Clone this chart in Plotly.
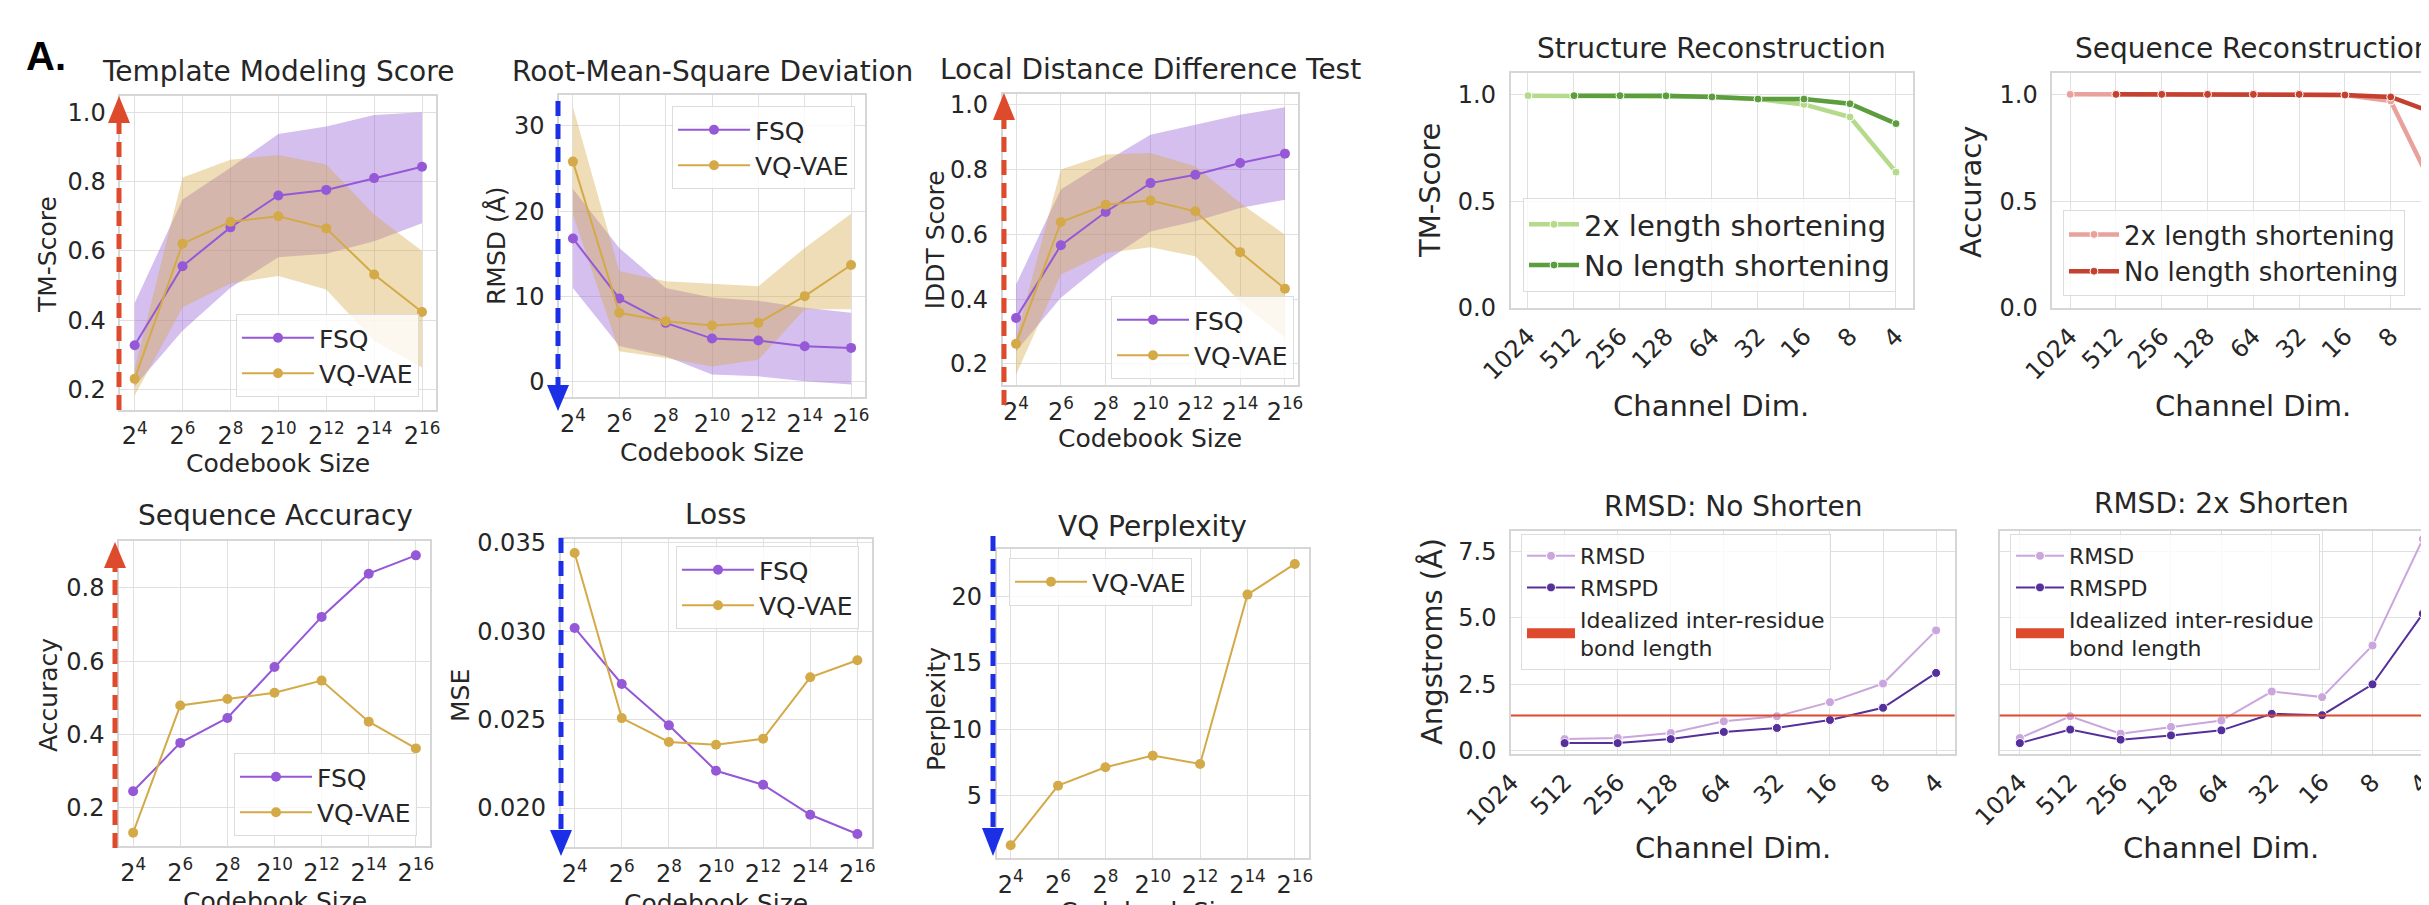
import plotly.graph_objects as go

W, H = 2429, 905
def X(p): return p / W
def Y(p): return 1 - p / H

# ---------------- data ----------------
exponents = [4, 6, 8, 10, 12, 14, 16]
codebook_labels = ["2<sup>4</sup>", "2<sup>6</sup>", "2<sup>8</sup>", "2<sup>10</sup>",
                   "2<sup>12</sup>", "2<sup>14</sup>", "2<sup>16</sup>"]

tm_fsq = [0.328, 0.556, 0.668, 0.760, 0.776, 0.810, 0.843]
tm_fsq_hi = [0.45, 0.748, 0.84, 0.937, 0.959, 0.992, 1.0]
tm_fsq_lo = [0.21, 0.37, 0.494, 0.582, 0.592, 0.628, 0.68]
tm_vq = [0.231, 0.621, 0.684, 0.700, 0.665, 0.532, 0.424]
tm_vq_hi = [0.26, 0.812, 0.863, 0.877, 0.849, 0.705, 0.60]
tm_vq_lo = [0.183, 0.437, 0.506, 0.528, 0.489, 0.34, 0.264]

rmsd_fsq = [16.8, 9.78, 6.92, 5.08, 4.85, 4.19, 3.99]
rmsd_fsq_hi = [22.6, 15.7, 11.0, 9.9, 9.5, 8.7, 8.1]
rmsd_fsq_lo = [11.0, 4.2, 3.0, 0.86, 0.66, 0.08, -0.3]
rmsd_vq = [25.8, 8.1, 7.12, 6.61, 6.92, 10.05, 13.7]
rmsd_vq_hi = [32.2, 13.0, 11.8, 11.5, 11.2, 15.7, 19.7]
rmsd_vq_lo = [19.6, 3.6, 2.8, 1.8, 2.6, 8.5, 8.5]

lddt_fsq = [0.342, 0.566, 0.669, 0.758, 0.784, 0.820, 0.849]
lddt_fsq_hi = [0.445, 0.738, 0.825, 0.907, 0.938, 0.969, 0.992]
lddt_fsq_lo = [0.239, 0.404, 0.517, 0.609, 0.64, 0.681, 0.707]
lddt_vq = [0.262, 0.638, 0.691, 0.704, 0.671, 0.545, 0.432]
lddt_vq_hi = [0.28, 0.80, 0.846, 0.851, 0.81, 0.697, 0.599]
lddt_vq_lo = [0.167, 0.476, 0.542, 0.56, 0.532, 0.393, 0.28]

seqacc_fsq = [0.245, 0.377, 0.445, 0.584, 0.721, 0.839, 0.889]
seqacc_vq = [0.132, 0.479, 0.497, 0.514, 0.547, 0.435, 0.362]
mse_fsq = [0.03019, 0.02702, 0.02468, 0.02211, 0.02132, 0.01962, 0.01853]
mse_vq = [0.03443, 0.02509, 0.02374, 0.02358, 0.02392, 0.0274, 0.02836]
perp_vq = [1.22, 5.73, 7.12, 8.0, 7.37, 20.18, 22.5]

channel_dims = ["1024", "512", "256", "128", "64", "32", "16", "8", "4"]
struct_2x = [0.994, 0.994, 0.994, 0.993, 0.989, 0.978, 0.953, 0.894, 0.636]
struct_no = [None, 0.994, 0.994, 0.993, 0.988, 0.978, 0.978, 0.956, 0.863]
seq_2x = [1.0, 1.0, 1.0, 1.0, 1.0, 1.0, 0.997, 0.969, 0.531]
seq_no = [None, 1.0, 1.0, 1.0, 1.0, 1.0, 0.997, 0.988, 0.909]
rmsdno_rmsd = [None, 0.44, 0.48, 0.67, 1.11, 1.30, 1.83, 2.53, 4.53]
rmsdno_rmspd = [None, 0.29, 0.29, 0.44, 0.71, 0.86, 1.16, 1.62, 2.93]
rmsd2x_rmsd = [0.48, 1.30, 0.645, 0.90, 1.14, 2.23, 2.02, 3.96, 7.97]
rmsd2x_rmspd = [0.29, 0.80, 0.42, 0.58, 0.77, 1.39, 1.34, 2.50, 5.16]
bond_length = 1.33

# ---------------- styles ----------------
FONT = "DejaVu Sans"
TXT = "#262626"
GRID = "#e0e0e0"
FRAME = "#d6d6d6"
FSQ_C = "#9558d6"
FSQ_F = "rgba(150,95,215,0.40)"
VQ_C = "#d4aa48"
VQ_F = "rgba(212,170,72,0.40)"
G_LIGHT = "#b5da8c"
G_DARK = "#5c9d3d"
R_LIGHT = "#e8a29b"
R_DARK = "#c4412f"
P_LIGHT = "#caa6dc"
P_DARK = "#55309a"
RED = "#dd4a2c"
BLUE = "#1b2fe6"

fig = go.Figure()
layout = dict(width=W, height=H, margin=dict(l=0, r=0, t=0, b=0, autoexpand=False),
              paper_bgcolor="white", plot_bgcolor="white",
              font=dict(family=FONT, color=TXT), showlegend=True)
annotations = []
shapes = []


def ax(i):
    return ("xaxis", "yaxis", "x", "y") if i == 1 else (f"xaxis{i}", f"yaxis{i}", f"x{i}", f"y{i}")


def setup(i, xd, yd, xr, yr, ytv, yfmt, cat=False, ytick_size=24, xtick_size=24, showy=True):
    xa, ya, xr_, yr_ = ax(i)
    common = dict(showgrid=True, gridcolor=GRID, gridwidth=1.2, showline=True, linecolor=FRAME,
                  linewidth=1.5, mirror=True, zeroline=False, ticks="", automargin=False)
    if cat:
        layout[xa] = dict(domain=[X(xd[0]), X(xd[1])], anchor=yr_, type="category",
                          categoryorder="array", categoryarray=channel_dims, range=xr,
                          tickangle=-45, tickfont=dict(size=xtick_size, color=TXT),
                          ticklabelstandoff=3, **common)
    else:
        layout[xa] = dict(domain=[X(xd[0]), X(xd[1])], anchor=yr_, range=xr,
                          tickvals=exponents, ticktext=codebook_labels,
                          tickfont=dict(size=xtick_size, color=TXT), ticklabelstandoff=4, **common)
    layout[ya] = dict(domain=[Y(yd[1]), Y(yd[0])], anchor=xr_, range=yr, tickvals=ytv,
                      tickformat=yfmt, showticklabels=showy,
                      tickfont=dict(size=ytick_size, color=TXT), ticklabelstandoff=8, **common)


def legend(i, x, y, size, gap, iw=72):
    key = "legend" if i == 1 else f"legend{i}"
    layout[key] = dict(x=X(x), y=Y(y), xanchor="left", yanchor="top", xref="paper", yref="paper",
                       font=dict(size=size, color=TXT, family=FONT), bgcolor="rgba(255,255,255,0.8)",
                       bordercolor="#dcdcdc", borderwidth=1, tracegroupgap=gap, itemwidth=iw,
                       traceorder="normal")


def leg_ref(i):
    return "legend" if i == 1 else f"legend{i}"


def band(i, xs, hi, lo, color):
    _, _, xr_, yr_ = ax(i)
    fig.add_trace(go.Scatter(x=list(xs) + list(xs)[::-1], y=list(hi) + list(lo)[::-1],
                             fill="toself", fillcolor=color, line=dict(width=0), mode="lines",
                             showlegend=False, hoverinfo="skip", xaxis=xr_, yaxis=yr_))


def line(i, xs, ys, color, name, width=2, msize=10, show=True, mline=0):
    _, _, xr_, yr_ = ax(i)
    fig.add_trace(go.Scatter(x=xs, y=ys, mode="lines+markers", name=name,
                             line=dict(color=color, width=width),
                             marker=dict(color=color, size=msize, line=dict(color="white", width=mline)),
                             xaxis=xr_, yaxis=yr_, legend=leg_ref(i), legendgroup=f"{i}-{name}",
                             showlegend=show))


def text(x, y, s, size, angle=0, bold=False, anchor="center"):
    annotations.append(dict(x=X(x), y=Y(y), xref="paper", yref="paper", text=(f"<b>{s}</b>" if bold else s),
                            showarrow=False, xanchor=anchor, yanchor="middle", textangle=angle,
                            font=dict(size=size, color=TXT if not bold else "black",
                                      family=FONT if not bold else "Liberation Sans")))


def arrow(x, y_tail, y_base, y_tip, color):
    shapes.append(dict(type="line", xref="paper", yref="paper", x0=X(x), x1=X(x), y0=Y(y_tail), y1=Y(y_base),
                       line=dict(color=color, width=5, dash="15px,8px"), layer="above"))
    shapes.append(dict(type="path", xref="paper", yref="paper",
                       path=f"M {X(x-11)} {Y(y_base)} L {X(x+11)} {Y(y_base)} L {X(x)} {Y(y_tip)} Z",
                       fillcolor=color, line=dict(width=0), layer="above"))


XR = [3.4, 16.6]
TS = 28   # title size
DY = 7    # title lift
LY = 2    # legend lift

# ---- Panel 1: TM-score ----
setup(1, (112.3, 428.4), (88.3, 401.7), XR, [0.142, 1.046], [0.2, 0.4, 0.6, 0.8, 1.0], ".1f")
band(1, exponents, tm_fsq_hi, tm_fsq_lo, FSQ_F)
band(1, exponents, tm_vq_hi, tm_vq_lo, VQ_F)
line(1, exponents, tm_fsq, FSQ_C, "FSQ")
line(1, exponents, tm_vq, VQ_C, "VQ-VAE")
legend(1, 228, 308 - LY, 25, 0)
text(270, 70 - DY, "Template Modeling Score", TS)
text(270, 456, "Codebook Size", 25)
text(39, 247, "TM-Score", 25, angle=-90)
arrow(111, 402, 115, 88, RED)

# ---- Panel 2: RMSD ----
setup(2, (551, 857), (87, 389), XR, [-1.76, 33.6], [0, 10, 20, 30], "d")
band(2, exponents, rmsd_fsq_hi, rmsd_fsq_lo, FSQ_F)
band(2, exponents, rmsd_vq_hi, rmsd_vq_lo, VQ_F)
line(2, exponents, rmsd_fsq, FSQ_C, "FSQ")
line(2, exponents, rmsd_vq, VQ_C, "VQ-VAE")
legend(2, 664, 100 - LY, 25, 0)
text(704, 70 - DY, "Root-Mean-Square Deviation", TS)
text(704, 445, "Codebook Size", 25)
text(489, 238, "RMSD (Å)", 25, angle=-90)
arrow(550, 93, 377, 403, BLUE)

# ---- Panel 3: lDDT ----
setup(3, (994.6, 1290.4), (86, 377), XR, [0.135, 1.033], [0.2, 0.4, 0.6, 0.8, 1.0], ".1f")
band(3, exponents, lddt_fsq_hi, lddt_fsq_lo, FSQ_F)
band(3, exponents, lddt_vq_hi, lddt_vq_lo, VQ_F)
line(3, exponents, lddt_fsq, FSQ_C, "FSQ")
line(3, exponents, lddt_vq, VQ_C, "VQ-VAE")
legend(3, 1103, 290 - LY, 25, 0)
text(1142, 69 - DY, "Local Distance Difference Test", TS)
text(1142, 430, "Codebook Size", 25)
text(927, 232, "lDDT Score", 25, angle=-90)
arrow(996, 397, 112, 85, RED)

# ---- Panel 4: Sequence Accuracy ----
setup(4, (111, 422), (532.7, 838), XR, [0.0955, 0.929], [0.2, 0.4, 0.6, 0.8], ".1f")
line(4, exponents, seqacc_fsq, FSQ_C, "FSQ")
line(4, exponents, seqacc_vq, VQ_C, "VQ-VAE")
legend(4, 226, 747 - LY, 25, 0)
text(267, 515 - DY, "Sequence Accuracy", TS)
text(267, 893, "Codebook Size", 25)
text(40, 687, "Accuracy", 25, angle=-90)
arrow(107, 840, 560, 534, RED)

# ---- Panel 5: Loss ----
setup(5, (552.5, 863.5), (530.7, 839.3), XR, [0.01778, 0.03524], [0.020, 0.025, 0.030, 0.035], ".3f")
line(5, exponents, mse_fsq, FSQ_C, "FSQ")
line(5, exponents, mse_vq, VQ_C, "VQ-VAE")
legend(5, 668, 543 - LY - 3, 25, 0)
text(708, 513 - DY, "Loss", TS)
text(708, 895, "Codebook Size", 25)
text(452, 688, "MSE", 25, angle=-90)
arrow(553, 530, 822, 848, BLUE)

# ---- Panel 6: VQ Perplexity ----
setup(6, (988.5, 1301), (541, 850), XR, [0.257, 23.63], [5, 10, 15, 20], "d")
line(6, exponents, perp_vq, VQ_C, "VQ-VAE")
legend(6, 1001, 555 - LY - 3, 25, 0)
text(1144, 525 - DY, "VQ Perplexity", TS)
text(1144, 903, "Codebook Size", 25)
text(928, 701, "Perplexity", 25, angle=-90)
arrow(985, 528, 820, 848, BLUE)

# ---- Panel 7: Structure Reconstruction ----
setup(7, (1502.5, 1905), (65, 300), [-0.38, 8.37], [0, 1.1], [0, 0.5, 1.0], ".1f", cat=True,
      ytick_size=24, xtick_size=24)
line(7, channel_dims, struct_2x, G_LIGHT, "2x length shortening", width=4.5, msize=8, mline=1)
line(7, channel_dims, struct_no, G_DARK, "No length shortening", width=4.5, msize=8, mline=1)
legend(7, 1515, 190, 29, 0, iw=50)
text(1703, 47 - DY, "Structure Reconstruction", TS)
text(1703, 398, "Channel Dim.", 29)
text(1422, 183, "TM-Score", 29, angle=-90)

# ---- Panel 8: Sequence Reconstruction ----
setup(8, (2044.3, 2429), (65, 300), [-0.39, 8.01], [0, 1.1], [0, 0.5, 1.0], ".1f", cat=True,
      ytick_size=24, xtick_size=24)
line(8, channel_dims, seq_2x, R_LIGHT, "2x length shortening", width=4.5, msize=8, mline=1)
line(8, channel_dims, seq_no, R_DARK, "No length shortening", width=4.5, msize=8, mline=1)
legend(8, 2055, 202, 26, 0, iw=50)
text(2245, 47 - DY, "Sequence Reconstruction", TS)
text(2245, 398, "Channel Dim.", 29)
text(1963, 184, "Accuracy", 29, angle=-90)

# ---- Panel 9: RMSD No Shorten ----
setup(9, (1503, 1946.7), (522.7, 746), [-0.01, 8.35], [-0.12, 8.28], [0, 2.5, 5, 7.5], ".1f", cat=True,
      ytick_size=24, xtick_size=24)
line(9, channel_dims, rmsdno_rmsd, P_LIGHT, "RMSD", width=2, msize=9, mline=1)
line(9, channel_dims, rmsdno_rmspd, P_DARK, "RMSPD", width=2, msize=9, mline=1)
fig.add_trace(go.Scatter(x=[channel_dims[0]], y=[None], mode="lines", line=dict(color=RED, width=14),
                         name="Idealized inter-residue<br>bond length", xaxis="x9", yaxis="y9",
                         legend="legend9", legendgroup="9-bond", hoverinfo="skip"))
shapes.append(dict(type="line", xref="x9 domain", yref="y9", x0=0, x1=1, y0=bond_length, y1=bond_length,
                   line=dict(color=RED, width=2), layer="above"))
legend(9, 1513, 526, 22, 2, iw=48)
text(1725, 505 - DY, "RMSD: No Shorten", TS)
text(1725, 840, "Channel Dim.", 29)
text(1424, 634, "Angstroms (Å)", 29, angle=-90)

# ---- Panel 10: RMSD 2x Shorten ----
setup(10, (1991.7, 2429), (522.7, 746), [-0.4, 8.28], [-0.12, 8.28], [0, 2.5, 5, 7.5], ".1f", cat=True,
      ytick_size=24, xtick_size=24, showy=False)
line(10, channel_dims, rmsd2x_rmsd, P_LIGHT, "RMSD", width=2, msize=9, mline=1)
line(10, channel_dims, rmsd2x_rmspd, P_DARK, "RMSPD", width=2, msize=9, mline=1)
fig.add_trace(go.Scatter(x=[channel_dims[0]], y=[None], mode="lines", line=dict(color=RED, width=14),
                         name="Idealized inter-residue<br>bond length", xaxis="x10", yaxis="y10",
                         legend="legend10", legendgroup="10-bond", hoverinfo="skip"))
shapes.append(dict(type="line", xref="x10 domain", yref="y10", x0=0, x1=1, y0=bond_length, y1=bond_length,
                   line=dict(color=RED, width=2), layer="above"))
legend(10, 2002, 526, 22, 2, iw=48)
text(2213, 503 - DY, "RMSD: 2x Shorten", TS)
text(2213, 840, "Channel Dim.", 29)

# panel label
text(38, 48, "A.", 40, bold=True)

layout["annotations"] = annotations
layout["shapes"] = shapes
fig.update_layout(**layout)
fig.write_html("out.html")
